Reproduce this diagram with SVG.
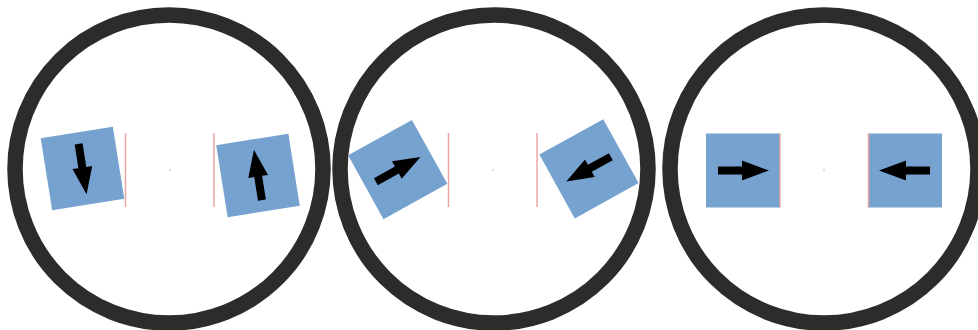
<svg xmlns="http://www.w3.org/2000/svg" width="978" height="330" viewBox="0 0 978 330">
  <style>
    .ring { fill: none; stroke: #2e2c2a; stroke-width: 15.5; }
    .sq { fill: #76a2d0; }
    .arr { fill: #000; }
    .guide { stroke: #eaa4a4; stroke-width: 1.5; }
    .dot { fill: #f0b8c4; }
  </style>
  <defs>
    <path id="arrow" d="M-25,-4 H-1 V-10 L26,0 L-1,10 V4 H-25 Z"/>
  </defs>
  <rect width="978" height="330" fill="#fff"/>

  <g id="circle1">
    <circle class="ring" cx="169" cy="169" r="154"/>
    <line class="guide" x1="125.5" y1="133" x2="125.5" y2="207"/>
    <line class="guide" x1="214" y1="133" x2="214" y2="207"/>
    <circle class="dot" cx="170" cy="170" r="0.9"/>
  </g>
  <g id="c1-left" transform="translate(82.5,168.5) rotate(-9)">
    <rect class="sq" x="-36.5" y="-36.5" width="73" height="73"/>
    <use href="#arrow" class="arr" transform="rotate(90)"/>
  </g>
  <g id="c1-right" transform="translate(258,175.5) rotate(-9)">
    <rect class="sq" x="-36.5" y="-36.5" width="73" height="73"/>
    <use href="#arrow" class="arr" transform="rotate(-90)"/>
  </g>

  <g id="circle2">
    <circle class="ring" cx="494" cy="169" r="154"/>
    <line class="guide" x1="448.5" y1="133" x2="448.5" y2="207"/>
    <line class="guide" x1="537" y1="133" x2="537" y2="207"/>
    <circle class="dot" cx="493" cy="170" r="0.9"/>
  </g>
  <g id="c2-left" transform="translate(397.7,169.6) rotate(-29)">
    <rect class="sq" x="-36.5" y="-36.5" width="73" height="73"/>
    <use href="#arrow" class="arr"/>
  </g>
  <g id="c2-right" transform="translate(589,168.8) rotate(-29)">
    <rect class="sq" x="-36.5" y="-36.5" width="73" height="73"/>
    <use href="#arrow" class="arr" transform="rotate(180)"/>
  </g>

  <g id="circle3">
    <circle class="ring" cx="824" cy="169" r="154"/>
    <circle class="dot" cx="824" cy="170" r="0.9"/>
  </g>
  <g id="c3-left" transform="translate(743,170.5)">
    <rect class="sq" x="-37" y="-37" width="74" height="74"/>
    <use href="#arrow" class="arr"/>
  </g>
  <g id="c3-right" transform="translate(905,170.5)">
    <rect class="sq" x="-37" y="-37" width="74" height="74"/>
    <use href="#arrow" class="arr" transform="rotate(180)"/>
  </g>
  <g id="guides3">
    <line class="guide" x1="780" y1="133.5" x2="780" y2="207.5"/>
    <line class="guide" x1="868.5" y1="133.5" x2="868.5" y2="207.5"/>
  </g>
</svg>
